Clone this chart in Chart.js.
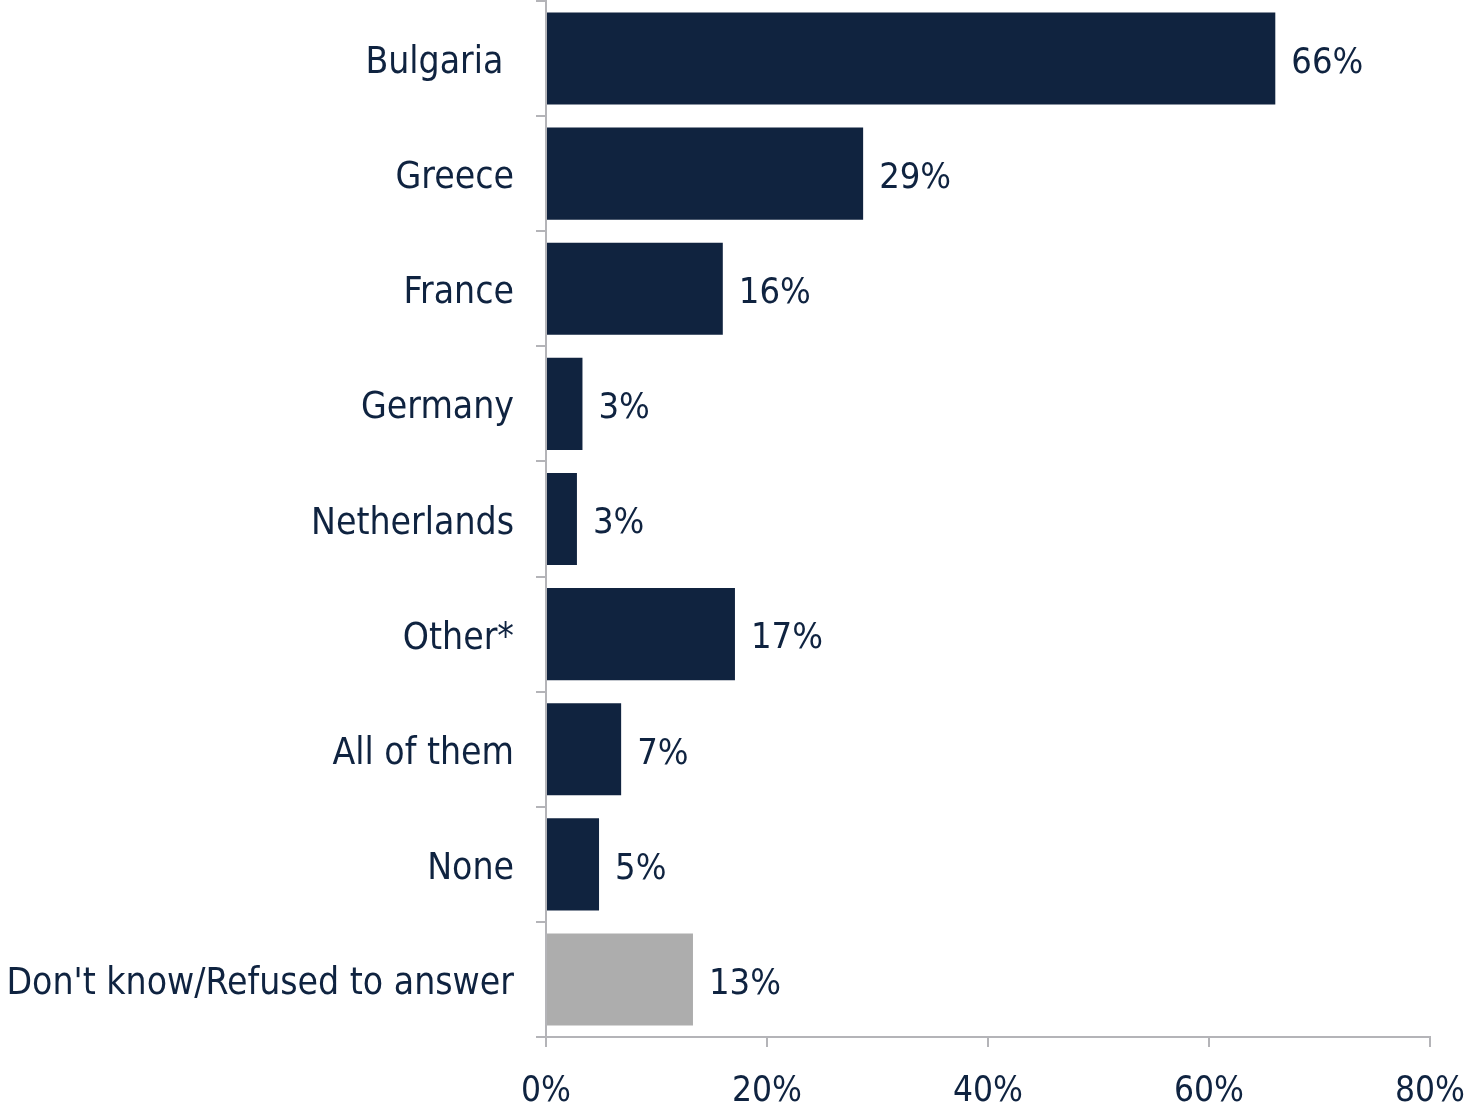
<!DOCTYPE html>
<html>
<head>
<meta charset="utf-8">
<script src="https://cdn.jsdelivr.net/npm/chart.js@4"></script>
<style>
html,body{margin:0;padding:0;background:#fff;}
#wrap{width:1468px;height:1110px;position:relative;}
</style>
</head>
<body>
<div id="wrap"><canvas id="c"></canvas></div>
<script>
const categories = ["Bulgaria ","Greece","France","Germany","Netherlands","Other*","All of them","None","Don't know/Refused to answer"];
const values = [66, 28.7, 16, 3.3, 2.8, 17.1, 6.8, 4.8, 13.3];
const valueLabels = ["66%","29%","16%","3%","3%","17%","7%","5%","13%"];
const xTicks = [0, 20, 40, 60, 80];

const FONT = "'DejaVu Sans Condensed', 'DejaVu Sans', sans-serif";
const TEXT = "#0f2340";
const NAVY = "#10233f";
const GRAY = "#adadad";
const AXIS = "#b4b4b8";
const barColors = categories.map((c, i) => i === categories.length - 1 ? GRAY : NAVY);

const valueLabelPlugin = {
  id: 'valueLabels',
  afterDatasetsDraw(chart) {
    const ctx = chart.ctx;
    const meta = chart.getDatasetMeta(0);
    ctx.save();
    ctx.font = "36px " + FONT;
    ctx.fillStyle = TEXT;
    ctx.textAlign = 'left';
    ctx.textBaseline = 'middle';
    meta.data.forEach((bar, i) => {
      ctx.fillText(valueLabels[i], bar.x + 16, bar.y + 5);
    });
    ctx.restore();
  }
};

new Chart(document.getElementById('c'), {
  type: 'bar',
  data: {
    labels: categories,
    datasets: [{
      data: values,
      backgroundColor: barColors,
      borderWidth: 0,
      categoryPercentage: 0.8,
      barPercentage: 1.0
    }]
  },
  options: {
    indexAxis: 'y',
    responsive: true,
    maintainAspectRatio: false,
    animation: false,
    layout: { padding: { top: 1, right: 38, bottom: 0, left: 0 } },
    plugins: { legend: { display: false }, tooltip: { enabled: false } },
    scales: {
      x: {
        type: 'linear',
        min: 0, max: 80,
        afterBuildTicks(scale) { scale.ticks = xTicks.map(v => ({ value: v })); },
        afterFit(scale) { scale.height = 73; scale.paddingLeft = 0; scale.paddingRight = 0; },
        border: { color: AXIS, width: 2 },
        grid: { drawOnChartArea: false, color: AXIS, lineWidth: 2, tickLength: 10 },
        ticks: {
          color: TEXT,
          font: { family: FONT, size: 35 },
          padding: 24,
          maxRotation: 0,
          callback: v => v + '%'
        }
      },
      y: {
        afterFit(scale) { scale.width = 546; scale.paddingTop = 0; scale.paddingBottom = 0; },
        border: { color: AXIS, width: 2 },
        grid: { drawOnChartArea: false, color: AXIS, lineWidth: 2, tickLength: 10, offset: true },
        ticks: {
          color: TEXT,
          font: { family: FONT, size: 37 },
          padding: 22,
          labelOffset: 5,
          autoSkip: false
        }
      }
    }
  },
  plugins: [valueLabelPlugin]
});
</script>
</body>
</html>
